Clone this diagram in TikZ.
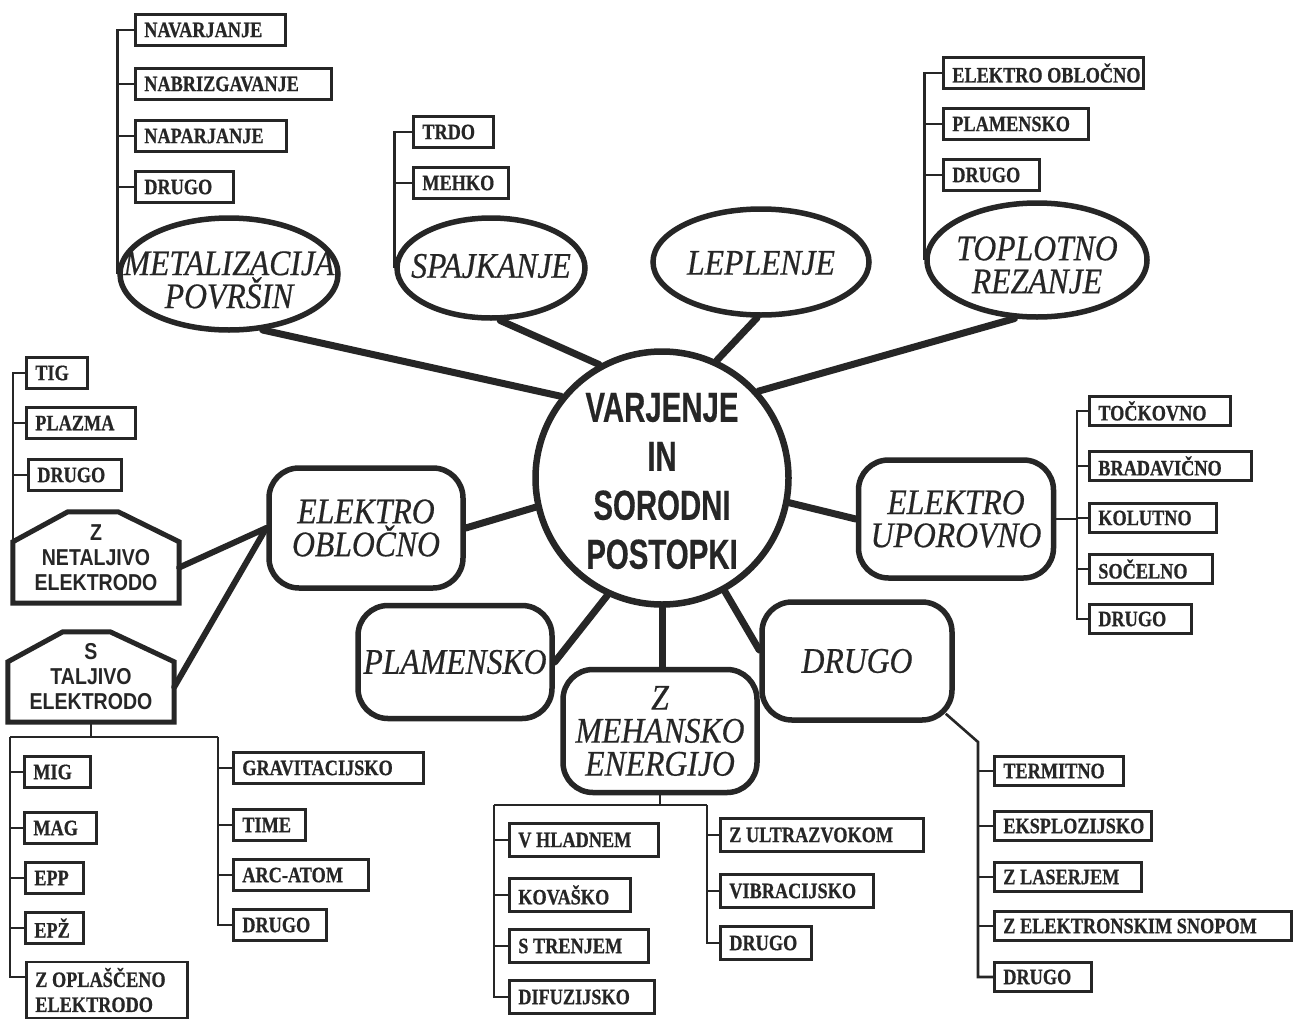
\documentclass[tikz,border=0pt]{standalone}
\usepackage{fontspec}
\setmainfont{Liberation Serif}
\newfontfamily\leaffont[FakeStretch=0.83,FakeBold=0.6]{Liberation Serif}
\newfontfamily\bigitfont[FakeStretch=0.88,FakeBold=0.5]{Liberation Serif}
\newfontfamily\hubfont[FakeStretch=0.7,FakeBold=0.4]{Liberation Sans}
\newfontfamily\housefont[FakeStretch=0.85]{Liberation Sans}
\usetikzlibrary{shapes.geometric}
\definecolor{ink}{RGB}{38,38,38}
\newcommand\leafbox[2]{\makebox[\dimexpr #1pt-18pt\relax][l]{#2}}
\begin{document}
\begin{tikzpicture}[x=1pt,y=-1pt,
  leaf/.style={draw=ink, text=ink, line width=2.6pt, anchor=west, minimum height=31pt, inner xsep=9pt, inner ysep=0pt, font=\leaffont\bfseries\fontsize{22}{25}\selectfont},
  thinline/.style={draw=ink, line width=2.6pt},
  thickline/.style={draw=ink, line width=7pt, line cap=round},
  medline/.style={draw=ink, line width=6pt, line cap=round},
  oval/.style={draw=ink, ellipse, line width=5.5pt, inner sep=0pt},
  rbox/.style={draw=ink, text=ink, rectangle, rounded corners=30pt, line width=5.5pt, inner sep=0pt, align=center, font=\bigitfont\itshape\fontsize{36}{33}\selectfont},
  bigtext/.style={text=ink, align=center, font=\bigitfont\itshape\fontsize{36}{33}\selectfont, inner sep=0pt},
  house/.style={text=ink, inner sep=0pt, align=center, font=\housefont\bfseries\fontsize{23}{25}\selectfont},
]
\path[fill=white] (0,0) rectangle (1293,1020);
\useasboundingbox (0,0) rectangle (1293,1020);

% ---------- hub ----------
\node[draw=ink, circle, line width=6.5pt, minimum size=253pt, inner sep=0pt] (hub) at (662,478) {};
\node[text=ink, font=\hubfont\bfseries\fontsize{42}{49}\selectfont, align=center, inner sep=0pt] (hubtext) at (662,481) {VARJENJE\\IN\\SORODNI\\POSTOPKI};

% ---------- ellipses ----------
\node[oval, minimum width=218pt, minimum height=112pt] (metal) at (229,274) {};
\node[bigtext] (metalt) at (229,280) {METALIZACIJA\\POVRŠIN};
\node[oval, minimum width=188pt, minimum height=100pt] (spaj) at (491,268) {};
\node[bigtext] (spajt) at (491,266) {SPAJKANJE};
\node[oval, minimum width=216pt, minimum height=106pt] (lepl) at (761,262) {};
\node[bigtext] (leplt) at (761,263) {LEPLENJE};
\node[oval, minimum width=220pt, minimum height=114pt] (topl) at (1037,260) {};
\node[bigtext] (toplt) at (1037,265) {TOPLOTNO\\REZANJE};

% ---------- rounded boxes ----------
\node[rbox, minimum width=194pt, minimum height=120pt] (eobl) at (366,528) {ELEKTRO\\OBLOČNO};
\node[rbox, minimum width=194pt, minimum height=113pt] (plam) at (455,662) {PLAMENSKO};
\node[rbox, minimum width=194pt, minimum height=123pt] (mehan) at (660,731) {Z\\MEHANSKO\\ENERGIJO};
\node[rbox, minimum width=190pt, minimum height=118pt] (drugob) at (857,661) {DRUGO};
\node[rbox, minimum width=195pt, minimum height=118pt] (eupor) at (956,519) {ELEKTRO\\UPOROVNO};

% ---------- houses ----------
\node[house, minimum width=166pt, minimum height=91pt] (znet) at (96,557.5) {Z\\NETALJIVO\\ELEKTRODO};
\draw[draw=ink, line width=5pt, line join=miter] (znet.south west) -- (znet.south east) -- ([yshift=-30pt]znet.north east) -- ([xshift=-61pt]znet.north east) -- ([xshift=55pt]znet.north west) -- ([yshift=-30pt]znet.north west) -- cycle;
\node[house, minimum width=166pt, minimum height=90pt] (stal) at (91,677) {S\\TALJIVO\\ELEKTRODO};
\draw[draw=ink, line width=5pt, line join=miter] (stal.south west) -- (stal.south east) -- ([yshift=-30pt]stal.north east) -- ([xshift=-64pt]stal.north east) -- ([xshift=55pt]stal.north west) -- ([yshift=-30pt]stal.north west) -- cycle;

% ---------- thick connectors ----------
\draw[thickline] (metal.-59) -- (hub.141);
\draw[thickline] (spaj.-80) -- (hub.119);
\draw[thickline] (lepl.-94) -- (hub.65);
\draw[thickline] (topl.-111) -- (hub.42.5);
\draw[thickline] (eobl.east) -- (hub.193);
\draw[thickline] (plam.east) -- (hub.245);
\draw[thickline] (hub.south) -- (hub.south |- mehan.north);
\draw[thickline] (hub.-61) -- ([yshift=11pt]drugob.west);
\draw[thickline] (hub.-11.5) -- (eupor.west);
\draw[medline] ([yshift=-10pt]znet.east) -- (eobl.west);
\draw[medline] ([yshift=-10pt]stal.east) -- (eobl.west);

% ---------- METALIZACIJA leaves ----------
\node[leaf] (navar) at (134,30) {\leafbox{150}{NAVARJANJE}};
\node[leaf] (nabr) at (134,84) {\leafbox{196}{NABRIZGAVANJE}};
\node[leaf] (napar) at (134,136) {\leafbox{151}{NAPARJANJE}};
\node[leaf] (mdrugo) at (134,187) {\leafbox{98}{DRUGO}};
\draw[thinline] (navar.west) -| (metal.west);
\draw[thinline] (nabr.west) -- (nabr.west -| metal.west);
\draw[thinline] (napar.west) -- (napar.west -| metal.west);
\draw[thinline] (mdrugo.west) -- (mdrugo.west -| metal.west);

% ---------- SPAJKANJE leaves ----------
\node[leaf] (trdo) at (412,132) {\leafbox{80}{TRDO}};
\node[leaf] (mehko) at (412,183) {\leafbox{95}{MEHKO}};
\draw[thinline] (trdo.west) -| (spaj.west);
\draw[thinline] (mehko.west) -- (mehko.west -| spaj.west);

% ---------- TOPLOTNO leaves ----------
\node[leaf] (teo) at (942,73) {\leafbox{200}{ELEKTRO OBLOČNO}};
\node[leaf] (tpla) at (942,124) {\leafbox{145}{PLAMENSKO}};
\node[leaf] (tdru) at (942,175) {\leafbox{96}{DRUGO}};
\draw[thinline] (teo.west) -| (topl.west);
\draw[thinline] (tpla.west) -- (tpla.west -| topl.west);
\draw[thinline] (tdru.west) -- (tdru.west -| topl.west);

% ---------- Z NETALJIVO leaves ----------
\node[leaf] (tig) at (25,373) {\leafbox{61}{TIG}};
\node[leaf] (plaz) at (25,423) {\leafbox{109}{PLAZMA}};
\node[leaf] (ldru) at (27,475) {\leafbox{93}{DRUGO}};
\draw[thinline] (tig.west) -| ([yshift=-30pt]znet.north west);
\draw[thinline] (plaz.west) -- (plaz.west -| znet.west);
\draw[thinline] (ldru.west) -- (ldru.west -| znet.west);

% ---------- S TALJIVO leaves ----------
\node[leaf] (mig) at (23,772) {\leafbox{66}{MIG}};
\node[leaf] (mag) at (23,828) {\leafbox{72}{MAG}};
\node[leaf] (epp) at (24,878) {\leafbox{58}{EPP}};
\node[leaf] (epz) at (24,928) {\leafbox{58}{EPŽ}};
\node[leaf, minimum height=56pt, align=left] (zopl) at (25,990) {\leafbox{161}{Z OPLAŠČENO}\\\leafbox{161}{ELEKTRODO}};
\node[leaf] (grav) at (232,768) {\leafbox{190}{GRAVITACIJSKO}};
\node[leaf] (time) at (232,825) {\leafbox{72}{TIME}};
\node[leaf] (arc) at (232,875) {\leafbox{135}{ARC-ATOM}};
\node[leaf] (bdru) at (232,925) {\leafbox{93}{DRUGO}};
\coordinate (lb) at (10,737);
\coordinate (rb) at (218,737);
\draw[thinline] (stal.south) -- (stal.south |- lb);
\draw[thinline] (lb) -- (rb);
\draw[thinline] (lb) |- ([yshift=13pt]zopl.west);
\draw[thinline] (rb) |- (bdru.west);
\draw[thinline] (mig.west) -- (mig.west -| lb);
\draw[thinline] (mag.west) -- (mag.west -| lb);
\draw[thinline] (epp.west) -- (epp.west -| lb);
\draw[thinline] (epz.west) -- (epz.west -| lb);
\draw[thinline] (grav.west) -- (grav.west -| rb);
\draw[thinline] (time.west) -- (time.west -| rb);
\draw[thinline] (arc.west) -- (arc.west -| rb);

% ---------- Z MEHANSKO leaves ----------
\node[leaf, minimum height=33pt] (vhl) at (508,840) {\leafbox{149}{V HLADNEM}};
\node[leaf, minimum height=33pt] (kov) at (508,895) {\leafbox{121}{KOVAŠKO}};
\node[leaf, minimum height=33pt] (str) at (508,946) {\leafbox{139}{S TRENJEM}};
\node[leaf, minimum height=33pt] (difu) at (508,997) {\leafbox{145}{DIFUZIJSKO}};
\node[leaf, minimum height=33pt] (zult) at (719,835) {\leafbox{203}{Z ULTRAZVOKOM}};
\node[leaf, minimum height=33pt] (vib) at (719,891) {\leafbox{153}{VIBRACIJSKO}};
\node[leaf, minimum height=33pt] (mdru) at (719,943) {\leafbox{91}{DRUGO}};
\coordinate (ml) at (494,805);
\coordinate (mr) at (707,805);
\draw[thinline] (mehan.south) -- (mehan.south |- ml);
\draw[thinline] (ml) -- (mr);
\draw[thinline] (ml) |- (difu.west);
\draw[thinline] (mr) |- (mdru.west);
\draw[thinline] (vhl.west) -- (vhl.west -| ml);
\draw[thinline] (kov.west) -- (kov.west -| ml);
\draw[thinline] (str.west) -- (str.west -| ml);
\draw[thinline] (zult.west) -- (zult.west -| mr);
\draw[thinline] (vib.west) -- (vib.west -| mr);

% ---------- DRUGO leaves ----------
\node[leaf, minimum height=29pt] (term) at (993,771) {\leafbox{129}{TERMITNO}};
\node[leaf, minimum height=29pt] (eksp) at (993,826) {\leafbox{157}{EKSPLOZIJSKO}};
\node[leaf, minimum height=29pt] (zlas) at (993,877) {\leafbox{147}{Z LASERJEM}};
\node[leaf, minimum height=29pt] (zel) at (993,926) {\leafbox{297}{Z ELEKTRONSKIM SNOPOM}};
\node[leaf, minimum height=29pt] (ddru) at (993,977) {\leafbox{97}{DRUGO}};
\coordinate (dk) at (978,742);
\draw[thinline] ([xshift=-9pt,yshift=9pt]drugob.south east) -- (dk) |- (ddru.west);
\draw[thinline] (term.west) -- (term.west -| dk);
\draw[thinline] (eksp.west) -- (eksp.west -| dk);
\draw[thinline] (zlas.west) -- (zlas.west -| dk);
\draw[thinline] (zel.west) -- (zel.west -| dk);

% ---------- ELEKTRO UPOROVNO leaves ----------
\node[leaf, minimum height=29pt] (tock) at (1088,411) {\leafbox{141}{TOČKOVNO}};
\node[leaf, minimum height=29pt] (brad) at (1088,466) {\leafbox{162}{BRADAVIČNO}};
\node[leaf, minimum height=29pt] (kol) at (1088,518) {\leafbox{127}{KOLUTNO}};
\node[leaf, minimum height=29pt] (soc) at (1088,569) {\leafbox{123}{SOČELNO}};
\node[leaf, minimum height=29pt] (edru) at (1088,619) {\leafbox{102}{DRUGO}};
\coordinate (eu) at (1077,518);
\draw[thinline] (tock.west) -| (eu |- edru.west) -- (edru.west);
\draw[thinline] (eupor.east) -- (eupor.east -| eu);
\draw[thinline] (brad.west) -- (brad.west -| eu);
\draw[thinline] (kol.west) -- (kol.west -| eu);
\draw[thinline] (soc.west) -- (soc.west -| eu);
\end{tikzpicture}
\end{document}
